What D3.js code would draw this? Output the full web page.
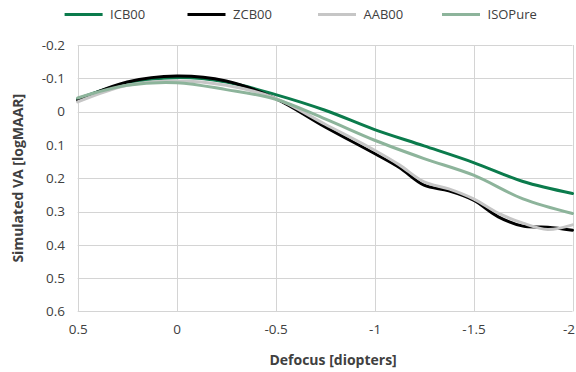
<!DOCTYPE html>
<html>
<head>
<meta charset="utf-8">
<script src="https://cdn.jsdelivr.net/npm/d3@7"></script>
<style>
  html, body { margin: 0; padding: 0; background: #fff; }
  svg { display: block; font-family: "Open Sans", "Noto Sans", sans-serif; }
</style>
</head>
<body>
<svg id="chart" width="576" height="372"></svg>
<script>
// Defocus sampling (diopters)
const defocusCoarse = [0.5, 0.25, 0, -0.25, -0.5, -0.75, -1, -1.25, -1.5, -1.75, -2];
const defocusFine = [0.5, 0.25, 0, -0.25, -0.5, -0.75, -1, -1.125, -1.25, -1.375, -1.5, -1.625, -1.75, -1.875, -2];

// Simulated visual acuity (logMAR) per lens design
const icb00 = [-0.038, -0.085, -0.102, -0.089, -0.051, -0.004, 0.054, 0.103, 0.153, 0.21, 0.246];
const zcb00 = [-0.034, -0.089, -0.107, -0.092, -0.039, 0.046, 0.126, 0.168, 0.221, 0.238, 0.266, 0.316, 0.344, 0.347, 0.356];
const aab00 = [-0.029, -0.079, -0.092, -0.079, -0.04, 0.038, 0.116, 0.16, 0.211, 0.232, 0.262, 0.305, 0.335, 0.354, 0.34];
const isoPure = [-0.041, -0.079, -0.087, -0.066, -0.037, 0.022, 0.086, 0.141, 0.191, 0.262, 0.306];

const seriesNames = ["ICB00", "ZCB00", "AAB00", "ISOPure"];
const seriesColors = ["#0b7b4c", "#000000", "#c6c6c6", "#8db49b"];

const xTicks = [0.5, 0, -0.5, -1, -1.5, -2];
const xTickLabels = ["0.5", "0", "-0.5", "-1", "-1.5", "-2"];
const yTicks = [-0.2, -0.1, 0, 0.1, 0.2, 0.3, 0.4, 0.5, 0.6];
const yTickLabels = ["-0.2", "-0.1", "0", "0.1", "0.2", "0.3", "0.4", "0.5", "0.6"];

const xTitle = "Defocus [diopters]";
const yTitle = "Simulated VA [logMAAR]";

const svg = d3.select("#chart");
const plot = { left: 77.7, right: 572.5, top: 45, bottom: 311.4 };

const x = d3.scaleLinear().domain([0.5, -2]).range([plot.left, plot.right]);
const y = d3.scaleLinear().domain([-0.2, 0.6]).range([plot.top, plot.bottom]);

const textColor = "#404040";
const gridColor = "#d4d4d4";

// Gridlines
const grid = svg.append("g");
grid.selectAll("line.h").data(yTicks).join("line")
  .attr("x1", plot.left).attr("x2", plot.right)
  .attr("y1", d => Math.round(y(d)) + 0.5).attr("y2", d => Math.round(y(d)) + 0.5)
  .attr("stroke", gridColor).attr("stroke-width", 1);
grid.selectAll("line.v").data(xTicks).join("line")
  .attr("y1", plot.top).attr("y2", plot.bottom)
  .attr("x1", d => Math.round(x(d)) + 0.5).attr("x2", d => Math.round(x(d)) + 0.5)
  .attr("stroke", gridColor).attr("stroke-width", 1);

// Axes (labels only; the frame is drawn by the gridlines)
const yAxis = d3.axisLeft(y).tickValues(yTicks)
  .tickFormat((d, i) => yTickLabels[i]).tickSize(0).tickPadding(12.7);
svg.append("g").attr("transform", `translate(${plot.left},0)`).call(yAxis)
  .call(g => g.select(".domain").remove())
  .call(g => g.selectAll("text").attr("fill", textColor)
    .style("font-size", "13.5px").style("font-family", "'Open Sans', sans-serif"));

const xAxis = d3.axisBottom(x).tickValues(xTicks)
  .tickFormat((d, i) => xTickLabels[i]).tickSize(0).tickPadding(13);
svg.append("g").attr("transform", `translate(0,${plot.bottom})`).call(xAxis)
  .call(g => g.select(".domain").remove())
  .call(g => g.selectAll("text").attr("fill", textColor)
    .style("font-size", "13.5px").style("font-family", "'Open Sans', sans-serif"))
  // keep the right-most label inside the canvas
  .call(g => g.selectAll(".tick").filter(d => d === -2).select("text")
    .attr("text-anchor", "end").attr("x", 2));

// Axis titles
svg.append("text")
  .attr("x", (plot.left + plot.right) / 2 + 8).attr("y", 365)
  .attr("text-anchor", "middle").attr("fill", textColor)
  .style("font-size", "14px").style("font-weight", "bold")
  .text(xTitle);
svg.append("text")
  .attr("transform", `translate(23,${(plot.top + plot.bottom) / 2}) rotate(-90)`)
  .attr("text-anchor", "middle").attr("fill", textColor)
  .style("font-size", "14px").style("font-weight", "bold")
  .text(yTitle);

// Series lines
const series = [
  { name: seriesNames[0], xs: defocusCoarse, ys: icb00, color: seriesColors[0] },
  { name: seriesNames[1], xs: defocusFine, ys: zcb00, color: seriesColors[1] },
  { name: seriesNames[2], xs: defocusFine, ys: aab00, color: seriesColors[2] },
  { name: seriesNames[3], xs: defocusCoarse, ys: isoPure, color: seriesColors[3] }
];

const line = d3.line()
  .x(d => x(d[0])).y(d => y(d[1]))
  .curve(d3.curveCatmullRom.alpha(0.5));

svg.append("g").selectAll("path").data(series).join("path")
  .attr("d", s => line(s.xs.map((v, i) => [v, s.ys[i]])))
  .attr("fill", "none")
  .attr("stroke", s => s.color)
  .attr("stroke-width", 3)
  .attr("stroke-linejoin", "round")
  .attr("stroke-linecap", "round");

// Legend
const legendX = [64.6, 187.5, 318, 442];
const legend = svg.append("g").selectAll("g").data(series).join("g")
  .attr("transform", (s, i) => `translate(${legendX[i]},14.5)`);
legend.append("line")
  .attr("x1", 0).attr("x2", 38).attr("y1", 0).attr("y2", 0)
  .attr("stroke", s => s.color).attr("stroke-width", 3);
legend.append("text")
  .attr("x", 45.5).attr("y", 4.5)
  .attr("fill", textColor)
  .style("font-size", "13px")
  .text(s => s.name);
</script>
</body>
</html>
